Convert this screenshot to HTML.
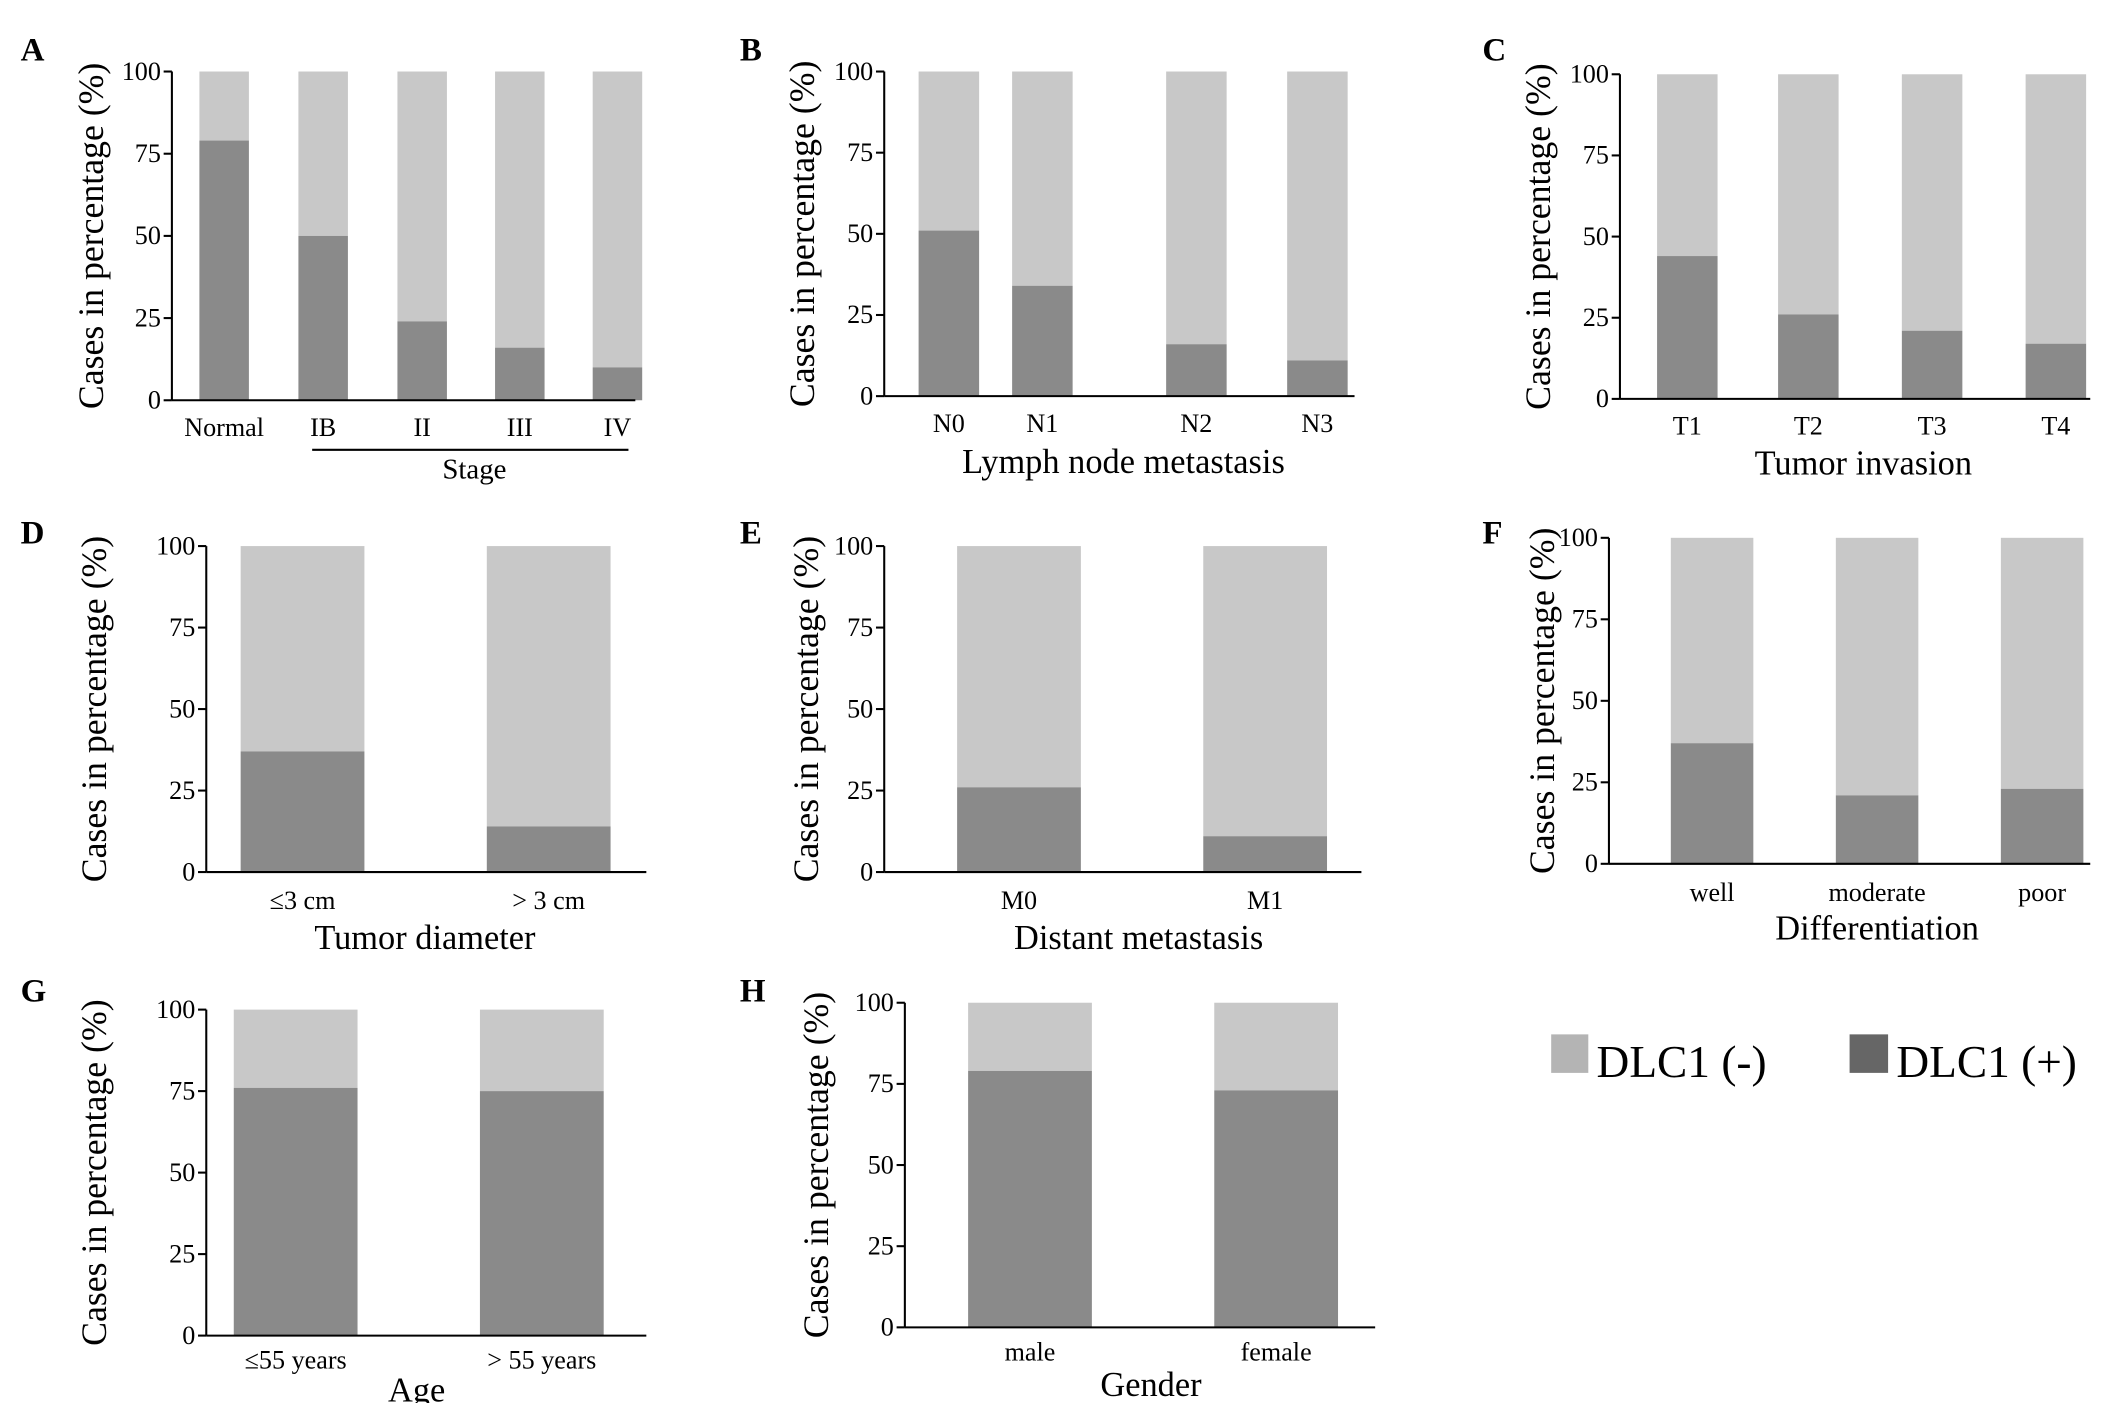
<!DOCTYPE html>
<html><head><meta charset="utf-8"><style>
html,body{margin:0;padding:0;background:#fff;}
svg{display:block;font-family:"Liberation Serif",serif;}
</style></head><body>
<svg id="fig" width="2126" height="1403" viewBox="0 0 1546 1020" preserveAspectRatio="none" xmlns="http://www.w3.org/2000/svg">
<g>
<rect x="1128" y="752" width="27" height="28" fill="#b4b4b4"/>
<text x="1161" y="783" font-size="33">DLC1 (-)</text>
<rect x="1345" y="752" width="28" height="28" fill="#666"/>
<text x="1379" y="783" font-size="33">DLC1 (+)</text>
</g>
</svg>
<script>
const tickValues = [0, 25, 50, 75, 100];
const catsA = ["Normal", "IB", "II", "III", "IV"];
const posA = [79, 50, 24, 16, 10];
const catsB = ["N0", "N1", "N2", "N3"];
const posB = [51, 34, 16, 11];
const catsC = ["T1", "T2", "T3", "T4"];
const posC = [44, 26, 21, 17];
const catsD = ["≤3 cm", "> 3 cm"];
const posD = [37, 14];
const catsE = ["M0", "M1"];
const posE = [26, 11];
const catsF = ["well", "moderate", "poor"];
const posF = [37, 21, 23];
const catsG = ["≤55 years", "> 55 years"];
const posG = [76, 75];
const catsH = ["male", "female"];
const posH = [79, 73];

const NS = "http://www.w3.org/2000/svg";
const svg = document.getElementById("fig");
function mk(tag, attrs, parent, txt) {
  const e = document.createElementNS(NS, tag);
  for (const k in attrs) e.setAttribute(k, attrs[k]);
  if (txt !== undefined) e.textContent = txt;
  parent.appendChild(e);
  return e;
}
const panels = [
  {id:"a", letter:"A", lx:15, ly:44, ax:125, axEnd:462, y100:52, y0:291, cats:catsA, vals:posA, centers:[163,235,307,378,449], bw:36, labY:317, title:"Stage", tx:345, ty:348, ytx:75, stage:true},
  {id:"b", letter:"B", lx:538, ly:44, ax:643, axEnd:985, y100:52, y0:288, cats:catsB, vals:posB, centers:[690,758,870,958], bw:44, labY:314, title:"Lymph node metastasis", tx:817, ty:344, ytx:592},
  {id:"c", letter:"C", lx:1078, ly:44, ax:1178, axEnd:1520, y100:54, y0:290, cats:catsC, vals:posC, centers:[1227,1315,1405,1495], bw:44, labY:316, title:"Tumor invasion", tx:1355, ty:345, ytx:1127},
  {id:"d", letter:"D", lx:15, ly:395, ax:150, axEnd:470, y100:397, y0:634, cats:catsD, vals:posD, centers:[220,399], bw:90, labY:661, title:"Tumor diameter", tx:309, ty:690, ytx:77},
  {id:"e", letter:"E", lx:538, ly:395, ax:643, axEnd:990, y100:397, y0:634, cats:catsE, vals:posE, centers:[741,920], bw:90, labY:661, title:"Distant metastasis", tx:828, ty:690, ytx:595},
  {id:"f", letter:"F", lx:1078, ly:395, ax:1170, axEnd:1520, y100:391, y0:628, cats:catsF, vals:posF, centers:[1245,1365,1485], bw:60, labY:655, title:"Differentiation", tx:1365, ty:683, ytx:1130},
  {id:"g", letter:"G", lx:15, ly:728, ax:150, axEnd:470, y100:734, y0:971, cats:catsG, vals:posG, centers:[215,394], bw:90, labY:995, title:"Age", tx:303, ty:1019, ytx:77},
  {id:"h", letter:"H", lx:538, ly:728, ax:658, axEnd:1000, y100:729, y0:965, cats:catsH, vals:posH, centers:[749,928], bw:90, labY:989, title:"Gender", tx:837, ty:1015, ytx:602}
];
panels.forEach(p => {
  const g = mk("g", {}, svg);
  
  
  const yScale = v => p.y0 - (p.y0 - p.y100) * v / 100;
  const lt = mk("text", {x:p.lx, y:p.ly, "font-size":24, "font-weight":"bold"}, g, p.letter);
  
  
  p.cats.forEach((c, i) => {
    const cx = p.centers[i], x = cx - p.bw/2;
    const neg = mk("rect", {x:x, y:yScale(100), width:p.bw, height:yScale(p.vals[i]) - yScale(100), fill:"#c8c8c8"}, g);
    
    
    const pos = mk("rect", {x:x, y:yScale(p.vals[i]), width:p.bw, height:yScale(0) - yScale(p.vals[i]), fill:"#8a8a8a"}, g);
    
    
    const cl = mk("text", {x:cx, y:p.labY, "font-size":19, "text-anchor":"middle"}, g, c);
    
    
  });
  const ya = mk("line", {x1:p.ax, x2:p.ax, y1:p.y100, y2:p.y0, stroke:"#000", "stroke-width":1.5}, g);
  
  
  const xa = mk("line", {x1:p.ax, x2:p.axEnd, y1:p.y0, y2:p.y0, stroke:"#000", "stroke-width":1.5}, g);
  
  
  tickValues.forEach(t => {
    const y = yScale(t);
    const tk = mk("line", {x1:p.ax - 6, x2:p.ax, y1:y, y2:y, stroke:"#000", "stroke-width":1.5}, g);
    
    
    const tl = mk("text", {x:p.ax - 8, y:y + 6, "font-size":19, "text-anchor":"end"}, g, String(t));
    
    
  });
  const ymid = (p.y0 + p.y100) / 2;
  const yt = mk("text", {x:p.ytx, y:ymid, "font-size":26, "text-anchor":"middle", transform:"rotate(-90 " + p.ytx + " " + ymid + ")"}, g, "Cases in percentage (%)");
  
  
  if (p.stage) {
    const sl = mk("line", {x1:227, x2:457, y1:327, y2:327, stroke:"#000", "stroke-width":1.5}, g);
    
    
  }
  const xt = mk("text", {x:p.tx, y:p.ty, "font-size":p.stage ? 21 : 25, "text-anchor":"middle"}, g, p.title);
  
  
});
</script>
</body></html>
